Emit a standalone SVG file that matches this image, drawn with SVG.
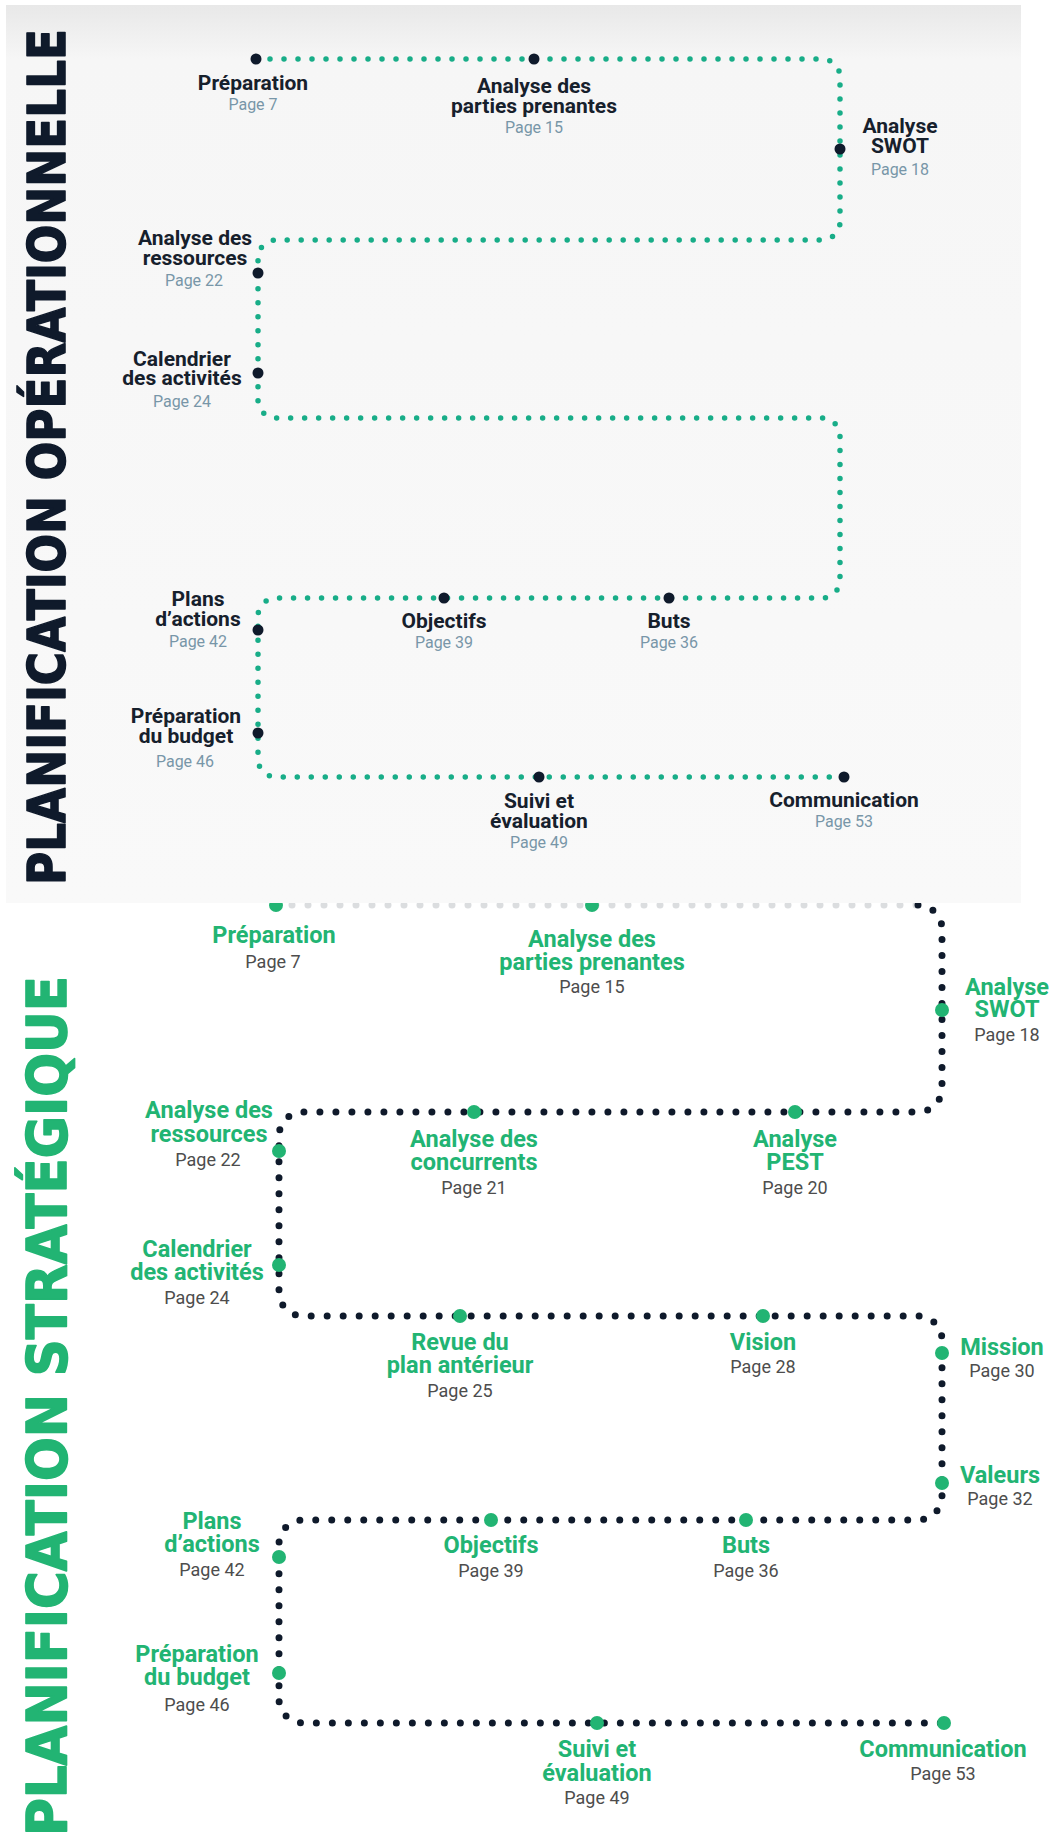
<svg xmlns="http://www.w3.org/2000/svg" width="1063" height="1840" viewBox="0 0 1063 1840">
<defs>
<linearGradient id="pg" x1="0" y1="0" x2="0" y2="1">
<stop offset="0" stop-color="#e8e8e8"/>
<stop offset="0.06" stop-color="#f6f6f6"/>
<stop offset="1" stop-color="#f9f9f9"/>
</linearGradient>
<style>
.tl{font-family:Roboto,"Liberation Sans",sans-serif;font-weight:700;font-size:21px;fill:#16202c;text-anchor:middle}
.tp{font-family:Roboto,"Liberation Sans",sans-serif;font-weight:400;font-size:16px;fill:#7896a8;text-anchor:middle}
.bl{font-family:Roboto,"Liberation Sans",sans-serif;font-weight:700;font-size:23.5px;fill:#22b473;text-anchor:middle}
.bp{font-family:Roboto,"Liberation Sans",sans-serif;font-weight:400;font-size:18px;fill:#4d4d4d;text-anchor:middle}
.title{font-family:"DejaVu Sans",sans-serif;font-weight:700;stroke-width:1.6;stroke-linejoin:round}
.tline{fill:none;stroke:#18ad88;stroke-width:5.5;stroke-linecap:round;stroke-dasharray:0 14}
.bline{fill:none;stroke:#0f1a2b;stroke-width:7;stroke-linecap:round;stroke-dasharray:0 16}
.tn{fill:#0f1a2b}
.bn{fill:#22b473}
</style>
</defs>
<rect x="0" y="0" width="1063" height="1840" fill="#ffffff"/>

<!-- bottom section: strategic -->
<g id="connectors-strategique">
<path class="bline" d="M 276 905 H 918" opacity="0.15"/>
<path class="bline" d="M 918 905 A 24 24 0 0 1 942 929 V 1088 A 24 24 0 0 1 918 1112 H 303 A 24 24 0 0 0 279 1136 V 1292 A 24 24 0 0 0 303 1316 H 918 A 24 24 0 0 1 942 1340 V 1496 A 24 24 0 0 1 918 1520 H 303 A 24 24 0 0 0 279 1544 V 1699 A 24 24 0 0 0 303 1723 H 944"/>
</g>
<g id="b-preparation"><circle class="bn" cx="276" cy="905" r="7"/><text class="bl" x="274" y="943">Préparation</text><text class="bp" x="273" y="968">Page 7</text></g>
<g id="b-parties"><circle class="bn" cx="592" cy="905" r="7"/><text class="bl" x="592" y="947">Analyse des</text><text class="bl" x="592" y="970">parties prenantes</text><text class="bp" x="592" y="993">Page 15</text></g>
<g id="b-swot"><circle class="bn" cx="942" cy="1010" r="7"/><text class="bl" x="1007" y="995">Analyse</text><text class="bl" x="1007" y="1017">SWOT</text><text class="bp" x="1007" y="1041">Page 18</text></g>
<g id="b-concurrents"><circle class="bn" cx="474" cy="1112" r="7"/><text class="bl" x="474" y="1147">Analyse des</text><text class="bl" x="474" y="1170">concurrents</text><text class="bp" x="474" y="1194">Page 21</text></g>
<g id="b-pest"><circle class="bn" cx="795" cy="1112" r="7"/><text class="bl" x="795" y="1147">Analyse</text><text class="bl" x="795" y="1170">PEST</text><text class="bp" x="795" y="1194">Page 20</text></g>
<g id="b-ressources"><circle class="bn" cx="279" cy="1151" r="7"/><text class="bl" x="209" y="1118">Analyse des</text><text class="bl" x="209" y="1142">ressources</text><text class="bp" x="208" y="1166">Page 22</text></g>
<g id="b-calendrier"><circle class="bn" cx="279" cy="1265" r="7"/><text class="bl" x="197" y="1257">Calendrier</text><text class="bl" x="197" y="1280">des activités</text><text class="bp" x="197" y="1304">Page 24</text></g>
<g id="b-revue"><circle class="bn" cx="460" cy="1316" r="7"/><text class="bl" x="460" y="1350">Revue du</text><text class="bl" x="460" y="1373">plan antérieur</text><text class="bp" x="460" y="1397">Page 25</text></g>
<g id="b-vision"><circle class="bn" cx="763" cy="1316" r="7"/><text class="bl" x="763" y="1350">Vision</text><text class="bp" x="763" y="1373">Page 28</text></g>
<g id="b-mission"><circle class="bn" cx="942" cy="1353" r="7"/><text class="bl" x="1002" y="1355">Mission</text><text class="bp" x="1002" y="1377">Page 30</text></g>
<g id="b-valeurs"><circle class="bn" cx="942" cy="1483" r="7"/><text class="bl" x="1000" y="1483">Valeurs</text><text class="bp" x="1000" y="1505">Page 32</text></g>
<g id="b-objectifs"><circle class="bn" cx="491" cy="1520" r="7"/><text class="bl" x="491" y="1553">Objectifs</text><text class="bp" x="491" y="1577">Page 39</text></g>
<g id="b-buts"><circle class="bn" cx="746" cy="1520" r="7"/><text class="bl" x="746" y="1553">Buts</text><text class="bp" x="746" y="1577">Page 36</text></g>
<g id="b-plans"><circle class="bn" cx="279" cy="1557" r="7"/><text class="bl" x="212" y="1529">Plans</text><text class="bl" x="212" y="1552">d’actions</text><text class="bp" x="212" y="1576">Page 42</text></g>
<g id="b-budget"><circle class="bn" cx="279" cy="1673" r="7"/><text class="bl" x="197" y="1662">Préparation</text><text class="bl" x="197" y="1685">du budget</text><text class="bp" x="197" y="1711">Page 46</text></g>
<g id="b-suivi"><circle class="bn" cx="597" cy="1723" r="7"/><text class="bl" x="597" y="1757">Suivi et</text><text class="bl" x="597" y="1781">évaluation</text><text class="bp" x="597" y="1804">Page 49</text></g>
<g id="b-communication"><circle class="bn" cx="944" cy="1723" r="7"/><text class="bl" x="943" y="1757">Communication</text><text class="bp" x="943" y="1780">Page 53</text></g>
<text class="title" transform="translate(66 1836) rotate(-90)" font-size="56" fill="#22b473" stroke="#22b473" textLength="860" lengthAdjust="spacingAndGlyphs">PLANIFICATION STRATÉGIQUE</text>

<!-- top section: operational -->
<rect x="6" y="5" width="1015" height="898" fill="url(#pg)"/>
<g id="connectors-operationnelle">
<path class="tline" d="M 256 59 H 822 A 18 18 0 0 1 840 77 V 222 A 18 18 0 0 1 822 240 H 276 A 18 18 0 0 0 258 258 V 400 A 18 18 0 0 0 276 418 H 822 A 18 18 0 0 1 840 436 V 580 A 18 18 0 0 1 822 598 H 276 A 18 18 0 0 0 258 616 V 759 A 18 18 0 0 0 276 777 H 844"/>
</g>
<g id="t-preparation"><circle class="tn" cx="256" cy="59" r="5.5"/><text class="tl" x="253" y="90">Préparation</text><text class="tp" x="253" y="110">Page 7</text></g>
<g id="t-parties"><circle class="tn" cx="534" cy="59" r="5.5"/><text class="tl" x="534" y="93">Analyse des</text><text class="tl" x="534" y="113">parties prenantes</text><text class="tp" x="534" y="133">Page 15</text></g>
<g id="t-swot"><circle class="tn" cx="840" cy="149" r="5.5"/><text class="tl" x="900" y="133">Analyse</text><text class="tl" x="900" y="153">SWOT</text><text class="tp" x="900" y="175">Page 18</text></g>
<g id="t-ressources"><circle class="tn" cx="258" cy="273" r="5.5"/><text class="tl" x="195" y="245">Analyse des</text><text class="tl" x="195" y="265">ressources</text><text class="tp" x="194" y="286">Page 22</text></g>
<g id="t-calendrier"><circle class="tn" cx="258" cy="373" r="5.5"/><text class="tl" x="182" y="366">Calendrier</text><text class="tl" x="182" y="385">des activités</text><text class="tp" x="182" y="407">Page 24</text></g>
<g id="t-plans"><circle class="tn" cx="258" cy="630" r="5.5"/><text class="tl" x="198" y="606">Plans</text><text class="tl" x="198" y="626">d’actions</text><text class="tp" x="198" y="647">Page 42</text></g>
<g id="t-objectifs"><circle class="tn" cx="444" cy="598" r="5.5"/><text class="tl" x="444" y="628">Objectifs</text><text class="tp" x="444" y="648">Page 39</text></g>
<g id="t-buts"><circle class="tn" cx="669" cy="598" r="5.5"/><text class="tl" x="669" y="628">Buts</text><text class="tp" x="669" y="648">Page 36</text></g>
<g id="t-budget"><circle class="tn" cx="258" cy="733" r="5.5"/><text class="tl" x="186" y="723">Préparation</text><text class="tl" x="186" y="743">du budget</text><text class="tp" x="185" y="767">Page 46</text></g>
<g id="t-suivi"><circle class="tn" cx="539" cy="777" r="5.5"/><text class="tl" x="539" y="808">Suivi et</text><text class="tl" x="539" y="828">évaluation</text><text class="tp" x="539" y="848">Page 49</text></g>
<g id="t-communication"><circle class="tn" cx="844" cy="777" r="5.5"/><text class="tl" x="844" y="807">Communication</text><text class="tp" x="844" y="827">Page 53</text></g>
<text class="title" transform="translate(65 885) rotate(-90)" font-size="51" fill="#0f1a2b" stroke="#0f1a2b" textLength="856" lengthAdjust="spacingAndGlyphs">PLANIFICATION OPÉRATIONNELLE</text>
</svg>
